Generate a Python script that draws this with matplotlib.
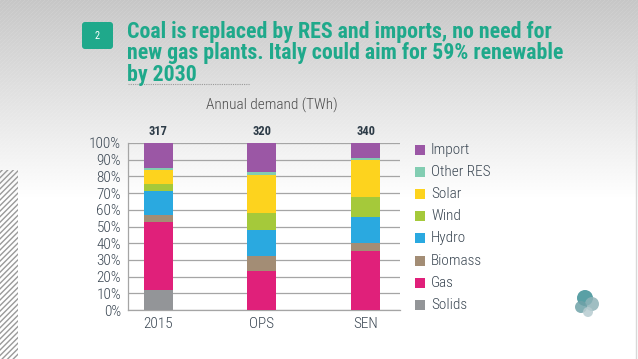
"""
Italy electricity mix by scenario - stacked 100% bars (2015 / OPS / SEN).
Writes out.png.
"""

import numpy as np
import matplotlib

matplotlib.use("Agg")
import matplotlib.pyplot as plt  # noqa: E402
from matplotlib.patches import FancyBboxPatch, Rectangle  # noqa: E402

SCENARIOS = ["2015", "OPS", "SEN"]
DEMAND = [317, 320, 340]  # TWh

# shares in %, bottom -> top
SOURCES = ["Solids", "Gas", "Biomass", "Hydro", "Wind", "Solar", "Other RES", "Import"]
SOLIDS = [12.0, 0.0, 0.0]
GAS = [40.6, 23.6, 35.6]
BIOMASS = [4.0, 9.0, 4.6]
HYDRO = [14.4, 15.6, 15.4]
WIND = [4.6, 10.0, 12.0]
SOLAR = [8.0, 22.4, 22.0]
OTHER_RES = [1.4, 2.0, 1.6]
IMPORT = [15.0, 17.4, 8.8]

TITLE = ["Coal is replaced by RES and imports, no need for",
         "new gas plants. Italy could aim for 59% renewable",
         "by 2030"]

COLORS = {
    "Solids": "#939598",
    "Gas": "#e0207a",
    "Biomass": "#a38d75",
    "Hydro": "#2aa9e0",
    "Wind": "#a5c93a",
    "Solar": "#fdd31e",
    "Other RES": "#82cdb2",
    "Import": "#9b57a5",
}
TEAL = "#1fa98b"
TXT = "#3a4652"
TITLE_FONT = ["Roboto Condensed", "DejaVu Sans"]
LABEL_FONT = ["Roboto Condensed", "DejaVu Sans"]

W, H = 638, 359
fig = plt.figure(figsize=(W / 100, H / 100), dpi=100)
fig.patch.set_facecolor("white")

# background: grey-to-white vertical gradient with faint diagonal stripes
bg = fig.add_axes([0, 0, 1, 1], zorder=-10)
yy = np.linspace(0, 1, H)[:, None]
grad = np.clip(yy / 0.55, 0, 1)
xx = np.arange(W)[None, :]
stripes = ((xx + np.arange(H)[:, None]) % 4 < 1) * 0.02 * (1 - grad)
shade = np.clip(0.78 + 0.22 * grad + stripes, 0, 1)
bg.imshow(np.repeat(shade[:, :, None], 3, axis=2), aspect="auto", extent=[0, W, H, 0])
bg.set_xlim(0, W)
bg.set_ylim(H, 0)
bg.axis("off")

# left hatched strip
bg.add_patch(Rectangle((0, 170), 18, H - 170, facecolor="none", edgecolor="#9a9a9a",
                       hatch="//////", linewidth=0))
bg.plot([636, 636], [60, H], color="#d8d8d8", lw=1)

# number badge
bg.add_patch(FancyBboxPatch((82, 22), 31, 27, boxstyle="round,pad=0,rounding_size=3",
                            facecolor=TEAL, edgecolor="none"))
bg.text(97.5, 36, "2", color="white", fontsize=7.5, ha="center", va="center",
        family=LABEL_FONT)

# title lines on baselines 38 / 59.5 / 81; fit line 2 width to ~440 px
renderer = fig.canvas.get_renderer()
probe = bg.text(0, 0, TITLE[1], fontsize=14, fontweight="bold", family=TITLE_FONT)
w14 = probe.get_window_extent(renderer).width
probe.remove()
tsize = min(16.0, 14 * 440 / w14)
for line, base in zip(TITLE, [38, 59.5, 81]):
    bg.text(127, base, line, color=TEAL, fontsize=tsize, fontweight="bold",
            family=TITLE_FONT, ha="left", va="baseline")
bg.plot([128, 250], [84, 84], color="#9a9a9a", lw=0.8, ls=(0, (1, 1)))

bg.text(206, 105, "Annual demand (TWh)", color="#4a4a4a", fontsize=11,
        family=LABEL_FONT, fontweight="light", ha="left", va="center")

# logo blob (rough)
for (cx, cy, r, c) in [(585, 298, 8, "#3d8f96"), (592, 304, 7, "#8fb3b8"),
                       (581, 307, 6, "#6fa2a8"), (588, 312, 5, "#b7ccd0")]:
    bg.add_patch(plt.Circle((cx, cy), r, color=c, alpha=0.85, lw=0))

# chart
ax = fig.add_axes([128 / W, 1 - 310 / H, 272 / W, 167 / H])
ax.set_facecolor("none")
x = np.arange(len(SCENARIOS))
series = {
    "Solids": SOLIDS, "Gas": GAS, "Biomass": BIOMASS, "Hydro": HYDRO,
    "Wind": WIND, "Solar": SOLAR, "Other RES": OTHER_RES, "Import": IMPORT,
}
bottom = np.zeros(len(SCENARIOS))
for name in SOURCES:
    vals = np.array(series[name])
    ax.bar(x, vals, 0.28, bottom=bottom, color=COLORS[name], zorder=3, linewidth=0)
    bottom += vals

for xi, d in zip(x, DEMAND):
    ax.text(xi, 103, str(d), ha="center", va="bottom", fontsize=9,
            fontweight="bold", color="#2d3b47", family=LABEL_FONT)

ax.set_xlim(-0.29, 2.33)
ax.set_ylim(0, 100)
ax.set_yticks(range(0, 101, 10))
ax.set_yticklabels([f"{v}%" for v in range(0, 101, 10)], family=LABEL_FONT,
                   fontsize=11, color=TXT, fontweight="light")
ax.set_xticks(x)
ax.set_xticklabels(SCENARIOS, family=LABEL_FONT, fontsize=11, color=TXT,
                   fontweight="light")
ax.tick_params(length=0, pad=5)
ax.grid(axis="y", color="#a5a5a5", lw=0.9, zorder=0)
for s in ("top", "right"):
    ax.spines[s].set_visible(False)
for s in ("left", "bottom"):
    ax.spines[s].set_color("#a5a5a5")
    ax.spines[s].set_linewidth(0.9)

# legend, top to bottom
leg_y = [150, 172, 194, 216, 238, 261, 283, 305]
for name, ly in zip(SOURCES[::-1], leg_y):
    bg.add_patch(Rectangle((415, ly - 5), 10, 10, facecolor=COLORS[name], edgecolor="none"))
    bg.text(431, ly, name, fontsize=11, color=TXT, family=LABEL_FONT,
            fontweight="light", ha="left", va="center")

fig.savefig("out.png", dpi=100)
